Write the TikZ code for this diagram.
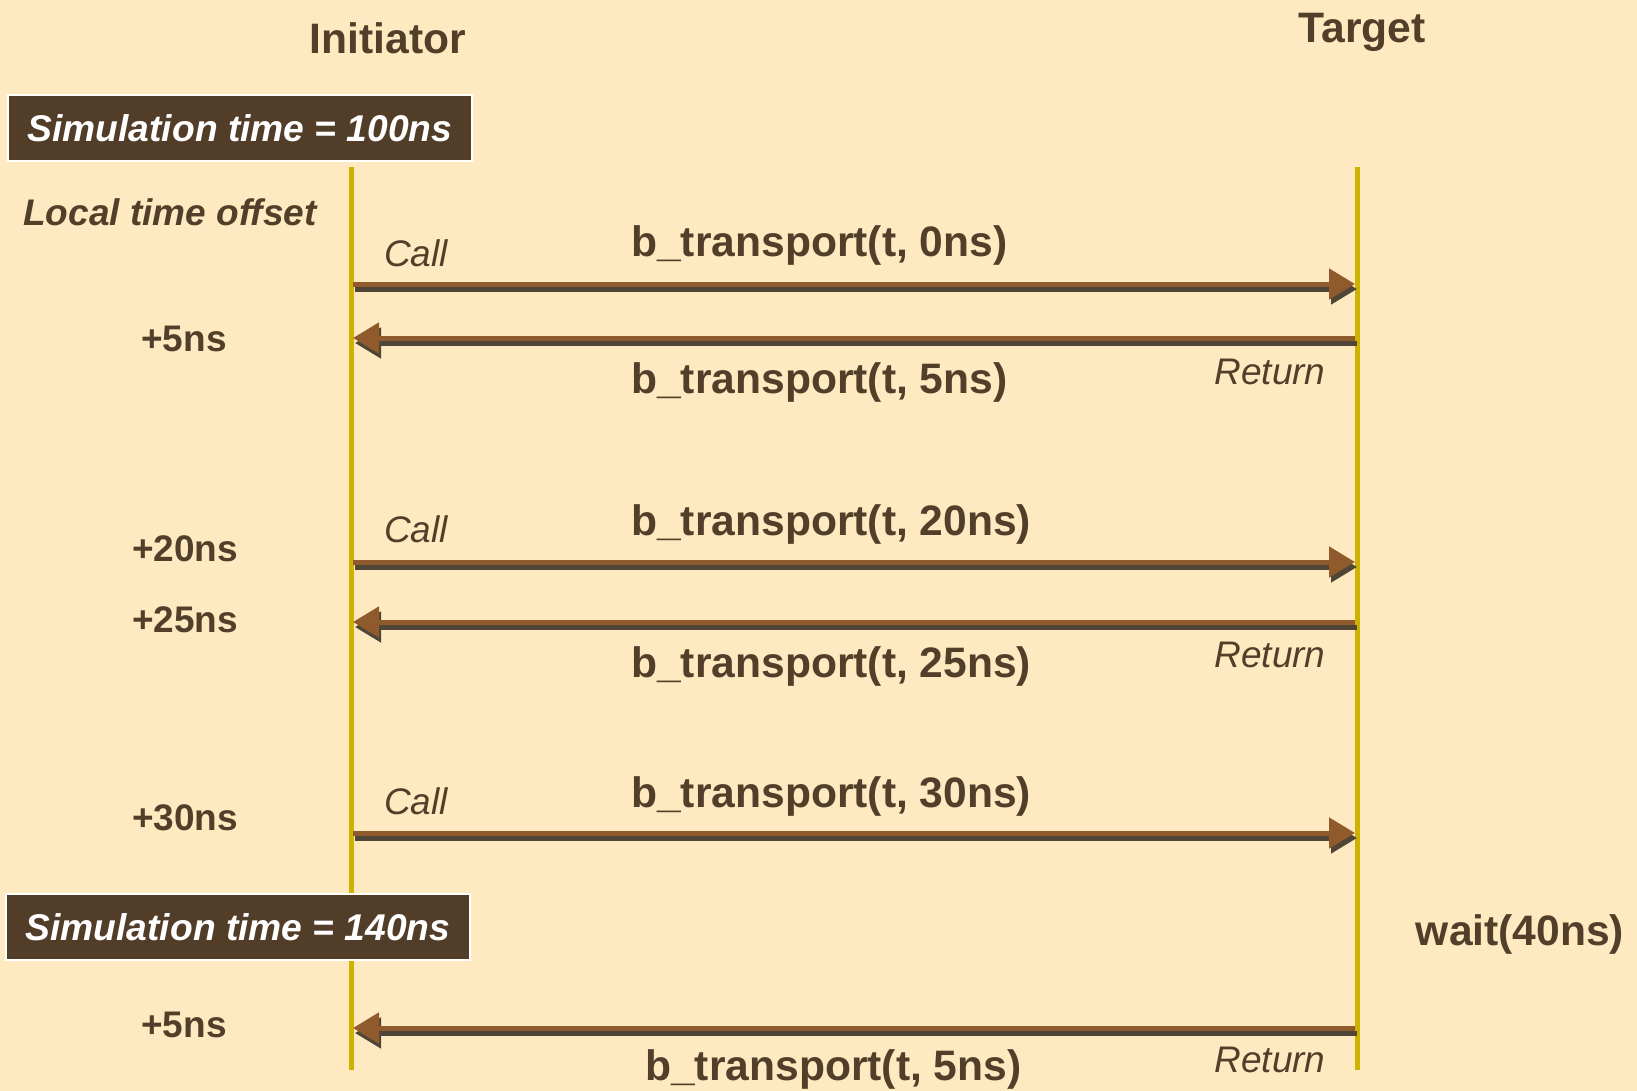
\documentclass[tikz,border=0pt]{standalone}
\usepackage{fontspec}
\setmainfont{Liberation Sans}
\usetikzlibrary{arrows.meta}
\definecolor{bg}{HTML}{FFE9C1}
\definecolor{ink}{HTML}{523F2A}
\definecolor{lifec}{HTML}{CDB300}
\definecolor{arrc}{HTML}{8F5B2D}
\definecolor{shadc}{HTML}{4F4637}
\definecolor{boxc}{HTML}{523D28}
\begin{document}
\begin{tikzpicture}[x=1pt,y=-1pt,
  big/.style={text=ink, font=\fontsize{42.6}{50}\selectfont\bfseries, inner sep=0pt},
  med/.style={text=ink, font=\fontsize{37}{44}\selectfont\bfseries, inner sep=0pt},
  note/.style={text=ink, font=\fontsize{37}{44}\selectfont\itshape, inner sep=0pt},
  simbox/.style={fill=boxc, draw=white, line width=1.5pt, text=white,
     font=\fontsize{37.2}{44}\selectfont\bfseries\itshape, minimum width=464pt, minimum height=66pt, inner sep=0pt},
  life/.style={lifec, line width=5pt},
  msg/.style={arrc, line width=5pt, -{Triangle[length=26pt,width=30pt]}},
  msgsh/.style={shadc, line width=5pt, -{Triangle[length=26pt,width=30pt]}, transform canvas={xshift=2pt,yshift=-5pt}}]
\fill[bg] (0,0) rectangle (1637,1091);
\useasboundingbox (0,0) rectangle (1637,1091);

% headers
\node[big, anchor=base] (init) at (388,54) {Initiator};
\node[big, anchor=base] (targ) at (1362,43) {Target};

% lifelines
\coordinate (itop) at (351,167);
\coordinate (ibot) at (351,1070);
\coordinate (ttop) at (1357,167);
\coordinate (tbot) at (1357,1070);
\draw[life] (itop) -- (ibot);
\draw[life] (ttop) -- (tbot);

% simulation time boxes
\node[simbox] (sim1) at (240,128) {Simulation time = 100ns};
\node[simbox] (sim2) at (238,927) {Simulation time = 140ns};

\node[text=ink, font=\fontsize{37}{44}\selectfont\bfseries\itshape, inner sep=0pt, anchor=base] (lto) at (170,226) {Local time offset};

% offsets
\node[med, anchor=base] (o1) at (184,351) {+5ns};
\node[med, anchor=base] (o2) at (185,561) {+20ns};
\node[med, anchor=base] (o3) at (185,632) {+25ns};
\node[med, anchor=base] (o4) at (185,830) {+30ns};
\node[med, anchor=base] (o5) at (184,1037) {+5ns};

% message endpoints
\foreach \n/\y in {1/284,2/338,3/562,4/622,5/833,6/1028}{
  \coordinate (a\n) at (353,\y);
  \coordinate (b\n) at (1355,\y);
}
% shadows
\draw[msgsh] (a1) -- (b1);
\draw[msgsh] (b2) -- (a2);
\draw[msgsh] (a3) -- (b3);
\draw[msgsh] (b4) -- (a4);
\draw[msgsh] (a5) -- (b5);
\draw[msgsh] (b6) -- (a6);
% arrows
\draw[msg] (a1) -- (b1);
\draw[msg] (b2) -- (a2);
\draw[msg] (a3) -- (b3);
\draw[msg] (b4) -- (a4);
\draw[msg] (a5) -- (b5);
\draw[msg] (b6) -- (a6);

% Call / Return
\node[note, anchor=base] (c1) at (416,266) {Call};
\node[note, anchor=base] (c2) at (416,542) {Call};
\node[note, anchor=base] (c3) at (416,814) {Call};
\node[note, anchor=base] (r1) at (1270,384) {Return};
\node[note, anchor=base] (r2) at (1270,667) {Return};
\node[note, anchor=base] (r3) at (1270,1072) {Return};

% b_transport labels
\node[big, anchor=base west] (l1) at (631,257) {b\_transport(t, 0ns)};
\node[big, anchor=base west] (l2) at (631,393) {b\_transport(t, 5ns)};
\node[big, anchor=base west] (l3) at (631,535) {b\_transport(t, 20ns)};
\node[big, anchor=base west] (l4) at (631,677) {b\_transport(t, 25ns)};
\node[big, anchor=base west] (l5) at (631,807) {b\_transport(t, 30ns)};
\node[big, anchor=base west] (l6) at (645,1080) {b\_transport(t, 5ns)};

\node[big, anchor=base] (wait) at (1520,945) {wait(40ns)};
\end{tikzpicture}
\end{document}
